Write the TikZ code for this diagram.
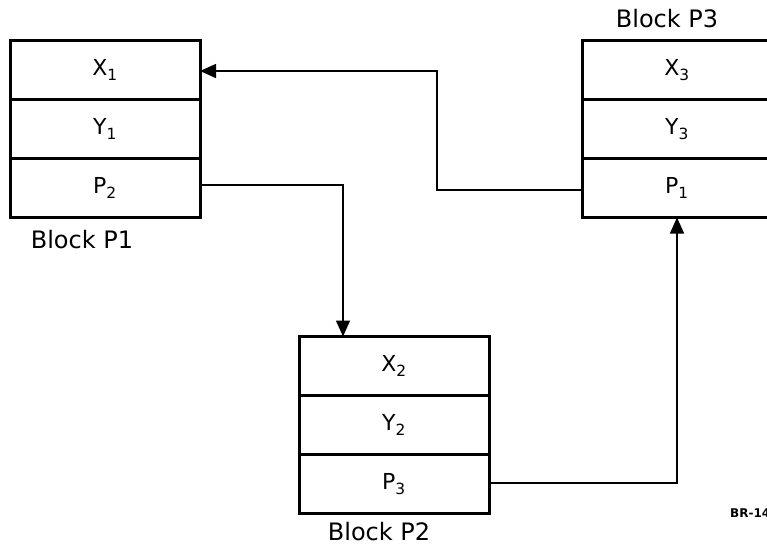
\documentclass[tikz,border=0pt]{standalone}
\usepackage{fontspec}
\setmainfont{DejaVu Sans}
\usetikzlibrary{arrows.meta}
\begin{document}
\begin{tikzpicture}[x=1pt,y=-1pt,
  cell/.style={draw,line width=3pt,outer sep=0pt,minimum width=190pt,minimum height=59pt,inner sep=0pt,font=\fontsize{22}{24}\selectfont},
  conn/.style={line width=1.4pt,-{Triangle[length=16pt,width=14pt]}},
  lbl/.style={font=\fontsize{24}{26}\selectfont},
]
\useasboundingbox (0,0) rectangle (767,547);
\clip (0,0) rectangle (767,547);
% Block P1
\node[cell] (x1) at (105,70) {X\textsubscript{1}};
\node[cell,anchor=north] (y1) at (x1.south) {Y\textsubscript{1}};
\node[cell,anchor=north] (p2a) at (y1.south) {P\textsubscript{2}};
\node[lbl] (l1) at (82,240) {Block P1};
% Block P3
\node[cell] (x3) at (677,70) {X\textsubscript{3}};
\node[cell,anchor=north] (y3) at (x3.south) {Y\textsubscript{3}};
\node[cell,anchor=north] (p1a) at (y3.south) {P\textsubscript{1}};
\node[lbl] (l3) at (667,19) {Block P3};
% Block P2
\node[cell] (x2) at (394,366) {X\textsubscript{2}};
\node[cell,anchor=north] (y2) at (x2.south) {Y\textsubscript{2}};
\node[cell,anchor=north] (p3a) at (y2.south) {P\textsubscript{3}};
\node[lbl] (l2) at (379,532) {Block P2};
% reference code
\node[font=\bfseries\fontsize{12}{13}\selectfont,anchor=west,inner sep=0pt] (br) at (730,513) {BR-14};
% connectors
\coordinate (c1) at (437,190);
\coordinate (c2) at (437,71);
\draw[conn] (p1a.west |- c1) -- (c1) -- (c2) -- (x1.east |- c2);
\coordinate (c3) at (343,185);
\draw[conn] (p2a.east |- c3) -- (c3) -- (c3 |- x2.north);
\coordinate (c4) at (677,483);
\draw[conn] (p3a.east |- c4) -- (c4) -- (p1a.south);
\end{tikzpicture}
\end{document}
